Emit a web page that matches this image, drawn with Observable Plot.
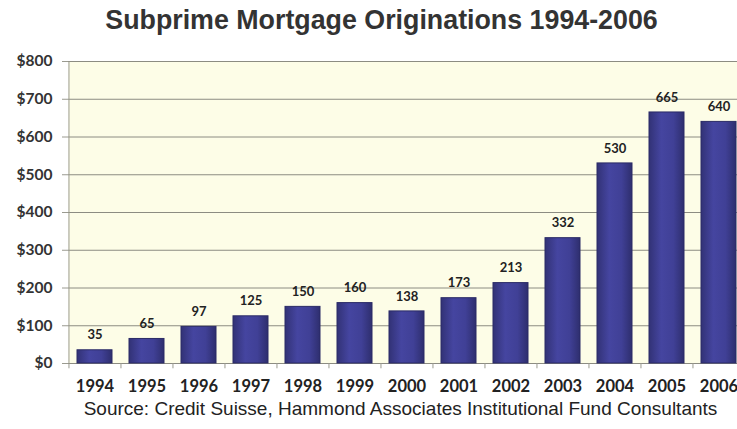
<!DOCTYPE html>
<html><head><meta charset="utf-8">
<script src="https://cdn.jsdelivr.net/npm/d3@7"></script>
<script src="https://cdn.jsdelivr.net/npm/@observablehq/plot@0.6"></script>
<style>
body{margin:0;background:#fff;width:737px;height:429px;overflow:hidden;font-family:"Liberation Sans",Arial,sans-serif}
#title{height:40px;line-height:40px;font-weight:bold;font-size:26.8px;color:#333;text-align:center;padding-left:26px;white-space:nowrap}
#chart svg{display:block}
#cap{font-size:19px;line-height:22px;color:#222;text-align:center;padding-left:64px;white-space:nowrap}
</style></head>
<body>
<div id="title">Subprime Mortgage Originations 1994-2006</div>
<div id="chart"></div>
<div id="cap">Source: Credit Suisse, Hammond Associates Institutional Fund Consultants</div>
<script>
const years = ["1994","1995","1996","1997","1998","1999","2000","2001","2002","2003","2004","2005","2006"];
const originations = [35,65,97,125,150,160,138,173,213,332,530,665,640];
const yTicks = [0,100,200,300,400,500,600,700,800];

const data = years.map((y,i)=>({year:y, value:originations[i]}));
const xRange = [68, 745];
const step = (xRange[1]-xRange[0])/years.length;
const tickFont = "Lato, 'Open Sans', sans-serif";

const chart = Plot.plot({
  width: 737,
  height: 358,
  marginLeft: 68,
  marginRight: 0,
  marginTop: 21,
  marginBottom: 35,
  style: {fontFamily: tickFont, background: "transparent", overflow: "visible"},
  x: {type: "band", domain: years, range: xRange, paddingInner: 0.33, paddingOuter: 0.165, align: 0.5},
  y: {domain: [0, 800]},
  marks: [
    Plot.frame({fill: "#fdfde7", stroke: null}),
    Plot.ruleY(yTicks, {stroke: "#8c8c82", strokeWidth: 1}),
    Plot.ruleX([years[0]], {dx: -step/2, stroke: "#9a9a90"}),
    Plot.ruleX(years, {y1: 0, y2: -14, dx: -step/2, stroke: "#9a9a90"}),
    Plot.barY(data, {x: "year", y: "value", fill: "url(#barGrad)", stroke: "#2b2b66", strokeWidth: 1}),
    Plot.text(data, {x: "year", y: "value", text: d => String(d.value), dy: -15, fontSize: 13, fontWeight: "bold", fill: "#222"}),
    Plot.axisY({ticks: yTicks, tickFormat: d => "$" + d, tickSize: 6, tickPadding: 10, stroke: "#9a9a90", fill: "#333", fontSize: 15.5, fontWeight: "bold", label: null}),
    Plot.axisX({tickSize: 0, tickPadding: 17, fill: "#222", fontSize: 16.5, fontWeight: "bold", label: null})
  ]
});

const svg = d3.select(chart);
const defs = svg.insert("defs", ":first-child");
const g = defs.append("linearGradient").attr("id","barGrad").attr("x1","0").attr("x2","1").attr("y1","0").attr("y2","0");
g.append("stop").attr("offset","0%").attr("stop-color","#323276");
g.append("stop").attr("offset","35%").attr("stop-color","#4545a0");
g.append("stop").attr("offset","70%").attr("stop-color","#404096");
g.append("stop").attr("offset","100%").attr("stop-color","#2e2e6e");
document.getElementById("chart").appendChild(chart);
</script>
</body></html>
